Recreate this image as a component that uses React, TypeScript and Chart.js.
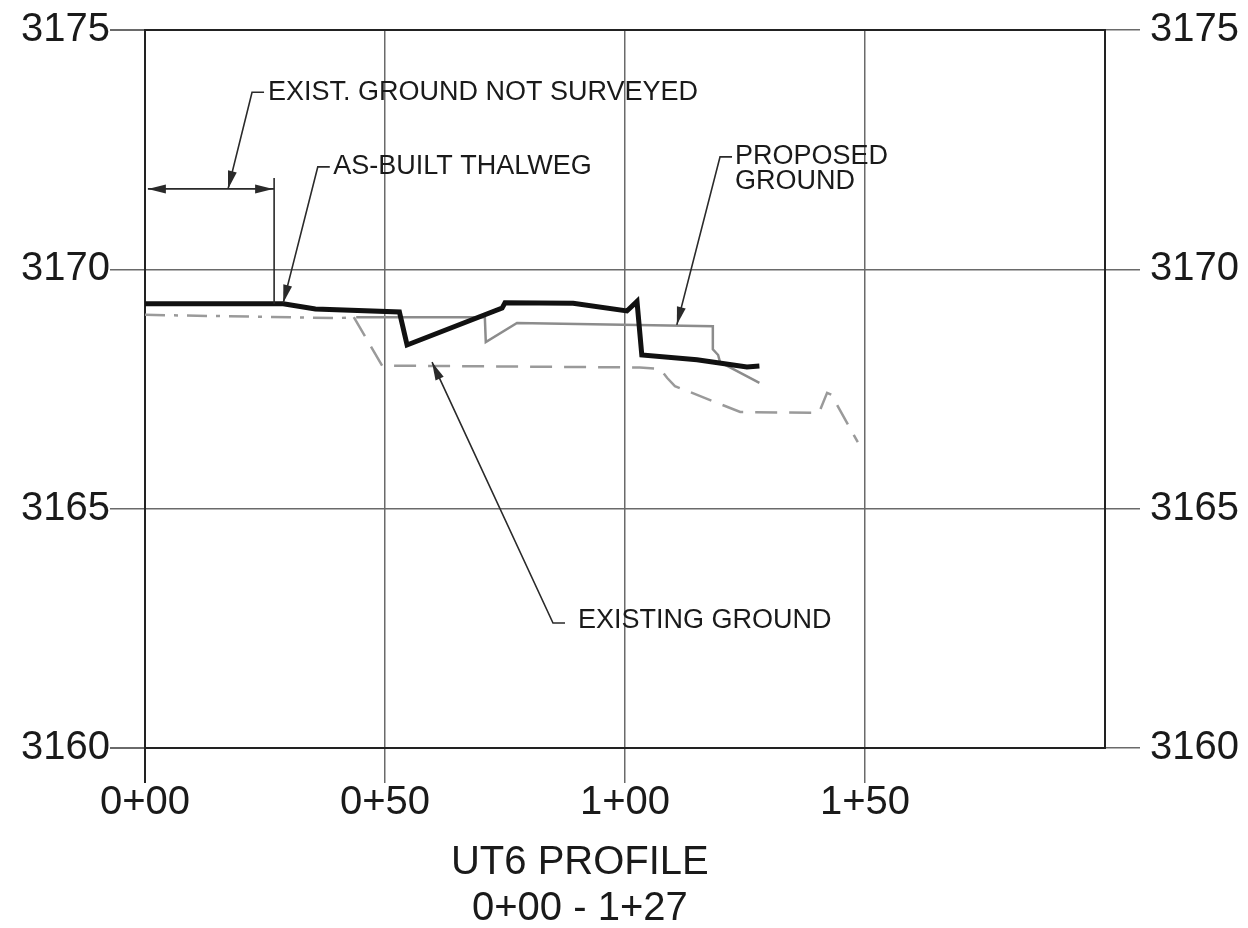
import React, { useEffect, useRef } from 'react';
import { Chart, registerables } from 'chart.js';

Chart.register(...registerables);

// ---- data (station in feet, elevation in feet) ----
const thalwegSta = [0, 28.8, 35.5, 53, 54.6, 74.4, 75, 89.2, 100.4, 102.5, 103.5, 115, 125.4, 128];
const thalwegElev = [3169.28, 3169.28, 3169.17, 3169.11, 3168.42, 3169.19, 3169.3, 3169.29, 3169.13, 3169.33, 3168.21, 3168.11, 3167.96, 3167.98];

const proposedSta = [44, 70.8, 71, 77.5, 118.3, 118.3, 119.4, 119.8, 128];
const proposedElev = [3169.0, 3169.0, 3168.48, 3168.88, 3168.81, 3168.33, 3168.21, 3168.06, 3167.63];

const existingSta = [0, 40, 43.5, 49.4, 103.1, 107.3, 108.8, 110.4, 124, 140.4, 142.1, 143.0, 148.5];
const existingElev = [3169.05, 3168.98, 3169.0, 3167.99, 3167.95, 3167.92, 3167.73, 3167.56, 3167.02, 3167.0, 3167.42, 3167.38, 3166.39];

const xTicks = [0, 50, 100, 150];
const yTicks = [3160, 3165, 3170, 3175];

// annotation callouts: text, text anchor (left, first-line middle), leader elbow, arrow tip
const noteTexts = ['EXIST. GROUND NOT SURVEYED', 'AS-BUILT THALWEG', 'PROPOSED\nGROUND', 'EXISTING GROUND'];
const noteAnchor = [[25.6, 3173.7], [39.2, 3172.14], [122.9, 3172.35], [90.2, 3162.67]];
const noteElbow = [[22.3, 3173.7], [36.0, 3172.14], [119.8, 3172.35], [85.0, 3162.61]];
const noteTip = [[17.3, 3171.68], [28.8, 3169.3], [110.8, 3168.84], [59.8, 3168.06]];

// "not surveyed" dimension
const dimStart = 0.6;
const dimEnd = 26.9;
const dimElev = 3171.68;
const dimExtTop = 3171.91;
const dimExtBottom = 3169.28;

const titleLines = ['UT6 PROFILE', '0+00 - 1+27'];

const station = (v: number) => `${Math.floor(v / 100)}+${String(Math.round(v % 100)).padStart(2, '0')}`;
const toPts = (xs: number[], ys: number[]) => xs.map((x, i) => ({ x, y: ys[i] }));

const FONT = 'Liberation Sans, Arial, Helvetica, sans-serif';

function arrowHead(ctx: CanvasRenderingContext2D, fx: number, fy: number, tx: number, ty: number, len = 18, half = 4.5) {
  const a = Math.atan2(ty - fy, tx - fx);
  ctx.beginPath();
  ctx.moveTo(tx, ty);
  ctx.lineTo(tx - len * Math.cos(a) + half * Math.sin(a), ty - len * Math.sin(a) - half * Math.cos(a));
  ctx.lineTo(tx - len * Math.cos(a) - half * Math.sin(a), ty - len * Math.sin(a) + half * Math.cos(a));
  ctx.closePath();
  ctx.fill();
}

const notesPlugin = {
  id: 'profileNotes',
  afterDatasetsDraw(chart: any) {
    const { ctx, scales, chartArea } = chart;
    const px = (s: number) => scales.x.getPixelForValue(s);
    const py = (e: number) => scales.y.getPixelForValue(e);
    ctx.save();
    ctx.strokeStyle = '#2a2a2a';
    ctx.fillStyle = '#2a2a2a';
    ctx.lineWidth = 1.6;

    // dimension line
    const dy = py(dimElev);
    ctx.beginPath();
    ctx.moveTo(px(dimStart), dy);
    ctx.lineTo(px(dimEnd), dy);
    ctx.moveTo(px(dimEnd), py(dimExtTop));
    ctx.lineTo(px(dimEnd), py(dimExtBottom));
    ctx.stroke();
    arrowHead(ctx, px(dimStart) + 30, dy, px(dimStart), dy);
    arrowHead(ctx, px(dimEnd) - 30, dy, px(dimEnd) - 1, dy);

    // callouts
    ctx.font = `27px ${FONT}`;
    ctx.textBaseline = 'middle';
    ctx.textAlign = 'left';
    noteTexts.forEach((t, i) => {
      const ex = px(noteElbow[i][0]);
      const ey = py(noteElbow[i][1]);
      const tx = px(noteTip[i][0]);
      const ty = py(noteTip[i][1]);
      ctx.strokeStyle = '#2a2a2a';
      ctx.beginPath();
      ctx.moveTo(ex + 12, ey);
      ctx.lineTo(ex, ey);
      ctx.lineTo(tx, ty);
      ctx.stroke();
      arrowHead(ctx, ex, ey, tx, ty);
      const lines = t.split('\n');
      ctx.fillStyle = '#1a1a1a';
      lines.forEach((ln, k) => {
        ctx.fillText(ln, px(noteAnchor[i][0]), py(noteAnchor[i][1]) + k * 25);
      });
      ctx.fillStyle = '#2a2a2a';
    });

    // title below the profile
    ctx.font = `40px ${FONT}`;
    ctx.textAlign = 'center';
    ctx.fillStyle = '#1a1a1a';
    const cx = px(90.6);
    titleLines.forEach((ln, k) => {
      ctx.fillText(ln, cx, chartArea.bottom + 115 + k * 46);
    });
    ctx.restore();
  },
};

const edgeColor = '#222222';
const gridColor = '#6a6a6a';

export default function App() {
  const ref = useRef<HTMLCanvasElement | null>(null);

  useEffect(() => {
    if (!ref.current) return;
    const chart = new Chart(ref.current, {
      type: 'scatter',
      data: {
        datasets: [
          {
            label: 'As-built thalweg',
            data: toPts(thalwegSta, thalwegElev),
            showLine: true,
            borderColor: '#111111',
            borderWidth: 5,
            pointRadius: 0,
            tension: 0,
            borderJoinStyle: 'miter',
          },
          {
            label: 'Proposed ground',
            data: toPts(proposedSta, proposedElev),
            showLine: true,
            borderColor: '#8c8c8c',
            borderWidth: 2.5,
            pointRadius: 0,
            tension: 0,
          },
          {
            label: 'Existing ground',
            data: toPts(existingSta, existingElev),
            showLine: true,
            borderColor: '#9a9a9a',
            borderWidth: 2.5,
            borderDash: [22, 12],
            pointRadius: 0,
            tension: 0,
            segment: {
              borderDash: (c: any) => (c.p1.parsed.x <= 44 ? [20, 9, 4, 9] : [22, 12]),
            },
          },
        ],
      },
      options: {
        responsive: false,
        animation: false,
        events: [],
        layout: { padding: { top: 30, left: 0, right: 0, bottom: 0 } },
        plugins: { legend: { display: false }, tooltip: { enabled: false }, title: { display: false } },
        scales: {
          x: {
            type: 'linear',
            position: 'bottom',
            min: 0,
            max: 200,
            afterFit: (s: any) => { s.height = 180; },
            afterBuildTicks: (s: any) => { s.ticks = [...xTicks, 200].map((v) => ({ value: v })); },
            ticks: {
              autoSkip: false,
              maxRotation: 0,
              padding: 0,
              color: '#1a1a1a',
              font: { family: FONT, size: 40, lineHeight: 1.0 },
              callback: (v: any) => (Number(v) === 200 ? '' : station(Number(v))),
            },
            grid: {
              color: (c: any) => (c.tick && (c.tick.value === 0 || c.tick.value === 200) ? edgeColor : gridColor),
              lineWidth: (c: any) => (c.tick && (c.tick.value === 0 || c.tick.value === 200) ? 2 : 1.5),
              tickColor: (c: any) => (c.tick && c.tick.value === 200 ? 'rgba(0,0,0,0)' : (c.tick && c.tick.value === 0 ? edgeColor : gridColor)),
              tickLength: 35,
              drawTicks: true,
            },
            border: { display: true, color: edgeColor, width: 2 },
          },
          y: {
            type: 'linear',
            position: 'left',
            min: 3160,
            max: 3175,
            afterFit: (s: any) => { s.width = 145; },
            afterBuildTicks: (s: any) => { s.ticks = yTicks.map((v) => ({ value: v })); },
            ticks: {
              padding: 0,
              color: '#1a1a1a',
              font: { family: FONT, size: 40, lineHeight: 1.0 },
              callback: (v: any) => String(v),
            },
            grid: {
              color: (c: any) => (c.tick && (c.tick.value === 3160 || c.tick.value === 3175) ? edgeColor : gridColor),
              lineWidth: (c: any) => (c.tick && (c.tick.value === 3160 || c.tick.value === 3175) ? 2 : 1.5),
              tickColor: gridColor,
              tickLength: 35,
            },
            border: { display: true, color: edgeColor, width: 2 },
          },
          y2: {
            type: 'linear',
            position: 'right',
            min: 3160,
            max: 3175,
            afterFit: (s: any) => { s.width = 143; },
            afterBuildTicks: (s: any) => { s.ticks = yTicks.map((v) => ({ value: v })); },
            ticks: {
              padding: 10,
              color: '#1a1a1a',
              font: { family: FONT, size: 40, lineHeight: 1.0 },
              callback: (v: any) => String(v),
            },
            grid: {
              drawOnChartArea: false,
              tickColor: gridColor,
              tickLength: 35,
              lineWidth: 1.5,
            },
            border: { display: true, color: edgeColor, width: 2 },
          },
        },
      },
      plugins: [notesPlugin],
    } as any);
    return () => chart.destroy();
  }, []);

  return (
    <div style={{ position: 'absolute', left: 0, top: 0, width: 1248, height: 928, background: '#ffffff' }}>
      <canvas ref={ref} width={1248} height={928} style={{ display: 'block', width: 1248, height: 928 }} />
    </div>
  );
}
